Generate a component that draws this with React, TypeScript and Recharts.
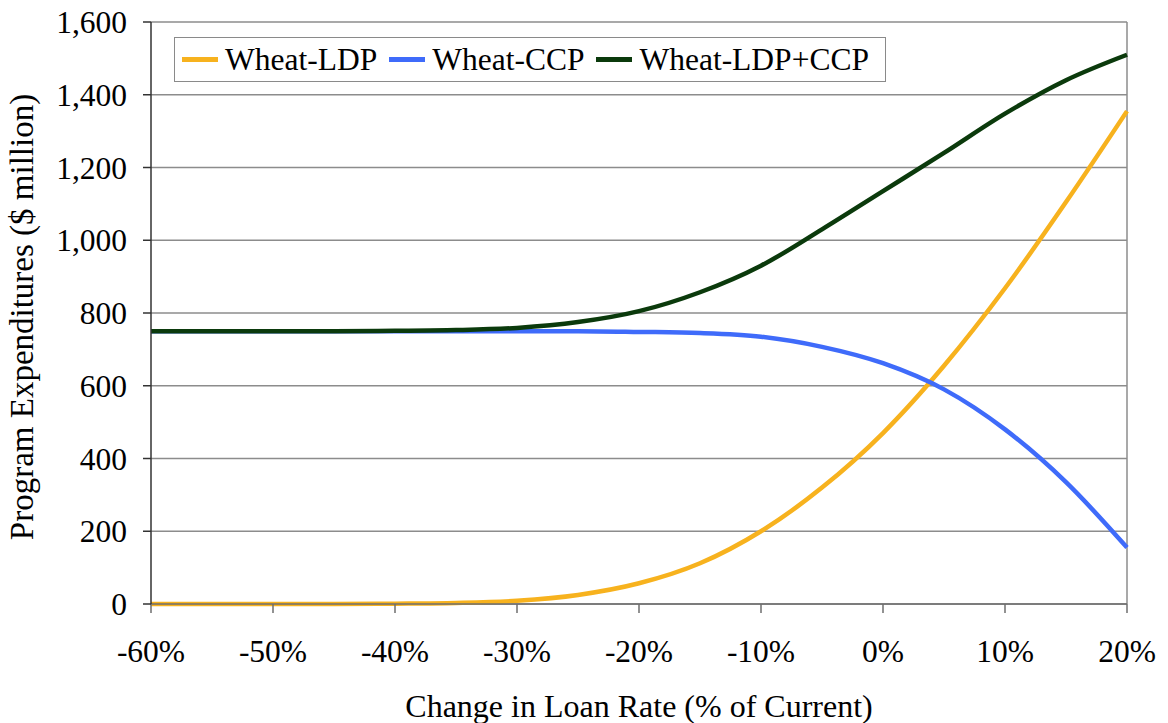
import React from "react";
import {
  LineChart,
  Line,
  XAxis,
  YAxis,
  CartesianGrid,
  Legend,
  Label,
  ReferenceLine,
} from "recharts";

// change in loan rate, % of current
const loanRateChange = [
  -60, -55, -50, -45, -40, -35, -30, -25, -20, -15, -10, -5, 0, 5, 10, 15, 20,
];

// $ million
const wheatLdp = [
  0, 0, 0, 0, 1, 3, 9, 25, 57, 112, 200, 320, 470, 655, 868, 1105, 1355,
];
const wheatCcp = [
  750, 750, 750, 750, 750, 750, 750, 750, 748, 745, 735, 707, 662, 590, 480,
  335, 155,
];
const wheatTotal = [
  750, 750, 750, 750, 751, 753, 759, 775, 805, 857, 930, 1030, 1135, 1240,
  1348, 1440, 1510,
];

const xTicks = [-60, -50, -40, -30, -20, -10, 0, 10, 20];
const yTicks = [0, 200, 400, 600, 800, 1000, 1200, 1400, 1600];

const seriesInfo = [
  { key: "ldp", name: "Wheat-LDP", color: "#F7B21E" },
  { key: "ccp", name: "Wheat-CCP", color: "#3F6BFA" },
  { key: "total", name: "Wheat-LDP+CCP", color: "#0B3A0C" },
];

const data = loanRateChange.map((x, i) => ({
  x,
  ldp: wheatLdp[i],
  ccp: wheatCcp[i],
  total: wheatTotal[i],
}));

const FONT = "Liberation Serif, Times New Roman, Times, DejaVu Serif, serif";
const FONT_SIZE = 31.5;

function renderLegend() {
  return (
    <div
      style={{
        display: "flex",
        alignItems: "center",
        border: "1.5px solid #8a8a8a",
        background: "#fff",
        height: 43,
        padding: "0 16px 0 7px",
        fontFamily: FONT,
        fontSize: FONT_SIZE,
        color: "#000",
        whiteSpace: "nowrap",
      }}
    >
      {seriesInfo.map((s, i) => (
        <div
          key={s.key}
          style={{
            display: "flex",
            alignItems: "center",
            marginLeft: i === 0 ? 0 : 12,
          }}
        >
          <span
            style={{
              display: "inline-block",
              width: 36,
              height: 5,
              background: s.color,
              marginRight: 7,
            }}
          />
          <span>{s.name}</span>
        </div>
      ))}
    </div>
  );
}

function renderYLabel(props: any) {
  const vb = props.viewBox || { x: 0, y: 22, width: 151, height: 582 };
  const cx = vb.x + 33;
  const cy = vb.y + vb.height / 2 + 4;
  return (
    <text
      x={cx}
      y={cy}
      transform={`rotate(-90, ${cx}, ${cy})`}
      textAnchor="middle"
      fontFamily={FONT}
      fontSize={33}
      fill="#000"
    >
      Program Expenditures ($ million)
    </text>
  );
}

export default function App() {
  return (
    <div
      style={{
        position: "absolute",
        left: 0,
        top: 0,
        width: 1168,
        height: 723,
        background: "#fff",
        fontFamily: FONT,
      }}
    >
      <LineChart
        width={1168}
        height={723}
        data={data}
        margin={{ top: 22, right: 41, left: 0, bottom: 0 }}
      >
        <CartesianGrid
          vertical={false}
          stroke="#8c8c8c"
          strokeWidth={1.5}
        />
        <XAxis
          dataKey="x"
          type="number"
          domain={[-60, 20]}
          ticks={xTicks}
          tickFormatter={(v) => `${v}%`}
          height={119}
          tickSize={9}
          tickMargin={27}
          stroke="#6e6e6e"
          strokeWidth={1.5}
          tick={{ fill: "#000", fontFamily: FONT, fontSize: FONT_SIZE }}
          interval={0}
        >
          <Label
            value="Change in Loan Rate (% of Current)"
            position="insideBottom"
            offset={6}
            style={{ fill: "#000", fontFamily: FONT, fontSize: 32 }}
          />
        </XAxis>
        <YAxis
          type="number"
          domain={[0, 1600]}
          ticks={yTicks}
          tickFormatter={(v) => v.toLocaleString("en-US")}
          width={151}
          tickSize={8}
          tickMargin={16}
          stroke="#333"
          strokeWidth={1.5}
          tick={{ fill: "#000", fontFamily: FONT, fontSize: FONT_SIZE }}
          interval={0}
        >
          <Label content={renderYLabel} />
        </YAxis>
        <ReferenceLine x={20} stroke="#8c8c8c" strokeWidth={1.5} />
        <Legend
          content={renderLegend}
          layout="horizontal"
          verticalAlign="middle"
          align="center"
          wrapperStyle={{ position: "absolute", left: 174, top: 37, width: "auto" }}
        />
        {seriesInfo.map((s) => (
          <Line
            key={s.key}
            type="monotone"
            dataKey={s.key}
            name={s.name}
            stroke={s.color}
            strokeWidth={4.5}
            dot={false}
            activeDot={false}
            isAnimationActive={false}
          />
        ))}
      </LineChart>
    </div>
  );
}
